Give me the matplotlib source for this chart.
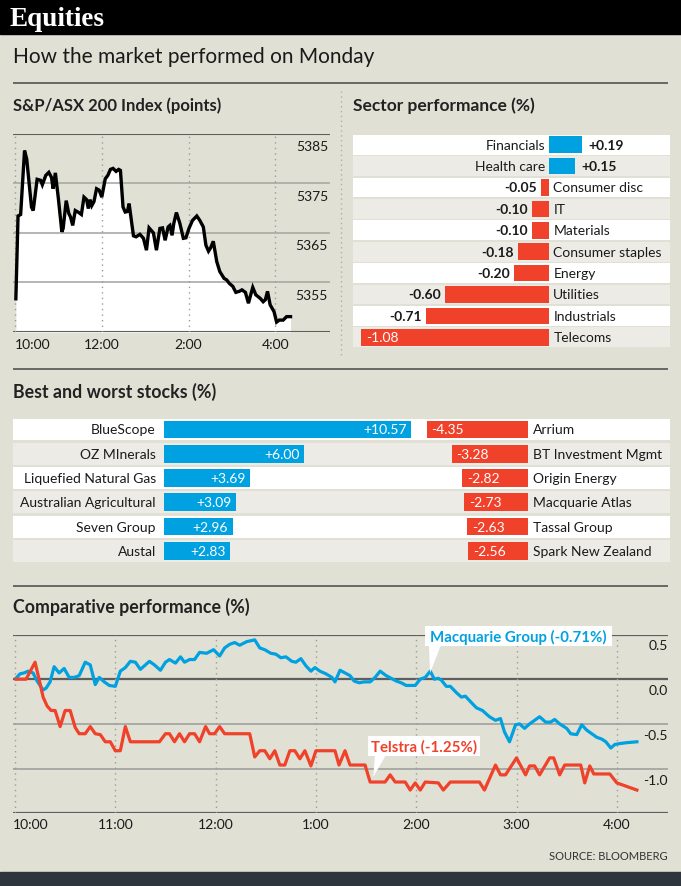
import matplotlib.pyplot as plt
from matplotlib.patches import Rectangle, Polygon

# size of the picture in pixels
W, H = 681, 887
BG = '#e1e0d4'
ROW_GREY = '#ecebe6'
BLUE = '#00a1e0'
RED = '#f0412a'
DARK_LINE = '#5e5e5e'
LIGHT_LINE = '#a9a9a6'
LABEL_SIZE = 10

plt.rcParams['font.family'] = ['Lato', 'DejaVu Sans']
plt.rcParams['text.color'] = '#1a1a1a'

# S&P/ASX 200, hours after 10:00
index_hours = [
    0.02, 0.07, 0.13, 0.22, 0.27, 0.38, 0.42, 0.51, 0.59, 0.63,
    0.71, 0.78, 0.84, 0.88, 0.93, 1.00, 1.08, 1.11, 1.18, 1.24,
    1.28, 1.33, 1.39, 1.47, 1.53, 1.59, 1.65, 1.69, 1.73, 1.77,
    1.82, 1.88, 1.94, 2.00, 2.08, 2.14, 2.20, 2.26, 2.33, 2.39,
    2.43, 2.49, 2.54, 2.59, 2.63, 2.73, 2.79, 2.88, 2.96, 3.03,
    3.09, 3.19, 3.26, 3.34, 3.40, 3.46, 3.53, 3.57, 3.62, 3.66,
    3.72, 3.80, 3.88, 3.94, 4.01, 4.09, 4.19, 4.26, 4.34, 4.40,
    4.46, 4.51, 4.57, 4.65, 4.72, 4.82, 4.88, 4.94, 5.02, 5.09,
    5.17, 5.23, 5.31, 5.38, 5.48, 5.55, 5.65, 5.72, 5.77, 5.82,
    5.88, 5.97, 6.03, 6.09, 6.18, 6.26, 6.35,
]
index_points = [
    5351.7, 5368.4, 5368.7, 5381.6, 5379.9, 5370.2, 5369.5, 5375.8, 5375.6, 5374.7,
    5376.6, 5377.2, 5376.2, 5373.9, 5377.1, 5371.9, 5365.2, 5365.9, 5371.5, 5368.9,
    5368.2, 5366.5, 5369.5, 5369.1, 5368.7, 5372.2, 5371.7, 5369.9, 5371.7, 5370.5,
    5371.3, 5373.9, 5373.6, 5372.2, 5375.9, 5376.6, 5377.8, 5378.0, 5377.4, 5377.8,
    5377.6, 5370.2, 5369.2, 5369.3, 5370.9, 5364.4, 5364.2, 5364.7, 5363.9, 5361.5,
    5366.0, 5365.0, 5361.5, 5365.9, 5366.0, 5363.5, 5366.2, 5366.5, 5364.5, 5366.9,
    5369.1, 5366.9, 5363.9, 5364.0, 5365.9, 5367.5, 5368.4, 5367.5, 5366.2, 5362.5,
    5361.3, 5362.0, 5363.3, 5359.2, 5357.2, 5355.8, 5355.5, 5354.8, 5354.2, 5353.0,
    5353.2, 5353.5, 5353.0, 5350.8, 5354.0, 5352.5, 5351.8, 5351.1, 5351.5, 5353.2,
    5350.5, 5349.1, 5347.0, 5347.4, 5347.4, 5348.1, 5348.1,
]
index_ticks = [5385, 5375, 5365, 5355]
index_time_hours = [0, 2, 4, 6]
index_time_labels = ['10:00', '12:00', '2:00', '4:00']

# sector performance (%)
sectors = ['Financials', 'Health care', 'Consumer disc', 'IT', 'Materials',
           'Consumer staples', 'Energy', 'Utilities', 'Industrials', 'Telecoms']
sector_change = [0.19, 0.15, -0.05, -0.10, -0.10, -0.18, -0.20, -0.60, -0.71, -1.08]

# best and worst stocks (%)
best_names = ['BlueScope', 'OZ MInerals', 'Liquefied Natural Gas',
              'Australian Agricultural', 'Seven Group', 'Austal']
best_change = [10.57, 6.00, 3.69, 3.09, 2.96, 2.83]
worst_names = ['Arrium', 'BT Investment Mgmt', 'Origin Energy',
               'Macquarie Atlas', 'Tassal Group', 'Spark New Zealand']
worst_change = [-4.35, -3.28, -2.82, -2.73, -2.63, -2.56]

# comparative performance (%), hours after 10:00
mqg_hours = [
    0.01, 0.05, 0.09, 0.13, 0.18, 0.22, 0.28, 0.31, 0.35, 0.39,
    0.44, 0.49, 0.54, 0.59, 0.64, 0.70, 0.75, 0.80, 0.84, 0.89,
    0.94, 1.00, 1.05, 1.10, 1.15, 1.20, 1.25, 1.34, 1.39, 1.45,
    1.50, 1.54, 1.60, 1.65, 1.69, 1.74, 1.79, 1.84, 1.91, 1.98,
    2.04, 2.09, 2.14, 2.19, 2.24, 2.31, 2.39, 2.44, 2.49, 2.55,
    2.60, 2.65, 2.70, 2.76, 2.80, 2.85, 2.90, 2.95, 2.99, 3.04,
    3.10, 3.16, 3.19, 3.24, 3.29, 3.34, 3.38, 3.43, 3.48, 3.54,
    3.59, 3.64, 3.70, 3.75, 3.80, 3.85, 3.90, 3.99, 4.04, 4.09,
    4.14, 4.18, 4.22, 4.25, 4.30, 4.34, 4.40, 4.45, 4.49, 4.54,
    4.60, 4.66, 4.73, 4.79, 4.84, 4.88, 4.93, 4.99, 5.03, 5.08,
    5.13, 5.23, 5.29, 5.34, 5.38, 5.43, 5.50, 5.54, 5.60, 5.65,
    5.70, 5.75, 5.80, 5.85, 5.89, 5.94, 5.98, 6.03, 6.10, 6.20,
]
mqg_change = [
    0.01, 0.06, 0.07, 0.09, 0.07, -0.02, -0.12, -0.10, -0.03, 0.14,
    0.07, 0.12, 0.02, 0.02, 0.04, 0.19, 0.16, -0.06, 0.02, -0.03,
    -0.07, -0.08, 0.09, 0.13, 0.20, 0.19, 0.11, 0.20, 0.16, 0.10,
    0.19, 0.22, 0.18, 0.25, 0.19, 0.22, 0.22, 0.30, 0.29, 0.33,
    0.26, 0.35, 0.39, 0.41, 0.38, 0.42, 0.44, 0.35, 0.33, 0.29,
    0.28, 0.24, 0.25, 0.20, 0.19, 0.23, 0.15, 0.09, 0.13, 0.09,
    0.06, 0.02, -0.03, 0.10, 0.07, 0.04, -0.02, -0.04, -0.03, -0.03,
    0.02, 0.09, 0.04, 0.01, -0.02, -0.04, -0.07, -0.07, 0.00, 0.02,
    0.09, 0.00, 0.01, -0.01, -0.08, -0.08, -0.15, -0.20, -0.19, -0.25,
    -0.32, -0.35, -0.42, -0.46, -0.44, -0.59, -0.70, -0.51, -0.50, -0.55,
    -0.50, -0.42, -0.48, -0.48, -0.45, -0.50, -0.55, -0.61, -0.62, -0.51,
    -0.57, -0.61, -0.65, -0.67, -0.70, -0.77, -0.73, -0.72, -0.71, -0.70,
]
tls_hours = [
    0.01, 0.11, 0.20, 0.24, 0.28, 0.32, 0.36, 0.40, 0.45, 0.50,
    0.55, 0.60, 0.64, 0.70, 0.75, 0.80, 0.85, 0.90, 0.95, 1.00,
    1.05, 1.10, 1.15, 1.44, 1.50, 1.54, 1.59, 1.64, 1.69, 1.74,
    1.79, 1.84, 1.90, 1.94, 1.99, 2.04, 2.09, 2.34, 2.39, 2.44,
    2.49, 2.54, 2.59, 2.64, 2.69, 2.74, 2.79, 2.84, 2.89, 2.95,
    3.00, 3.19, 3.23, 3.29, 3.34, 3.49, 3.54, 3.69, 3.74, 3.79,
    3.89, 3.94, 3.99, 4.04, 4.09, 4.22, 4.27, 4.34, 4.63, 4.68,
    4.79, 4.84, 4.89, 5.00, 5.09, 5.13, 5.18, 5.23, 5.33, 5.37,
    5.43, 5.48, 5.64, 5.68, 5.73, 5.77, 5.93, 6.00, 6.20,
]
tls_change = [
    0.00, 0.00, 0.19, 0.00, -0.20, -0.30, -0.35, -0.35, -0.53, -0.35,
    -0.35, -0.54, -0.61, -0.61, -0.53, -0.61, -0.62, -0.70, -0.70, -0.80,
    -0.80, -0.53, -0.70, -0.70, -0.61, -0.61, -0.70, -0.61, -0.70, -0.61,
    -0.61, -0.70, -0.53, -0.61, -0.61, -0.53, -0.61, -0.61, -0.87, -0.80,
    -0.80, -0.89, -0.80, -0.96, -0.96, -0.80, -0.80, -0.89, -0.80, -0.97,
    -0.80, -0.80, -0.96, -0.80, -0.96, -0.96, -1.15, -1.15, -1.07, -1.15,
    -1.15, -1.24, -1.16, -1.24, -1.15, -1.16, -1.24, -1.15, -1.15, -1.24,
    -0.96, -1.07, -1.07, -0.88, -1.07, -0.97, -0.97, -1.07, -0.88, -0.88,
    -1.07, -0.96, -0.96, -1.16, -0.97, -1.06, -1.06, -1.16, -1.24,
]
comp_ticks = [0.5, 0.0, -0.5, -1.0]
comp_time_hours = [0, 1, 2, 3, 4, 5, 6]
comp_time_labels = ['10:00', '11:00', '12:00', '1:00', '2:00', '3:00', '4:00']


def frame(left, top, width, height):
    # pixel box (from top left) -> figure fraction
    return [left / W, 1 - (top + height) / H, width / W, height / H]


def px(n):
    # pixels -> points for offsets
    return n * 72 / 100


def bare(ax):
    ax.set_facecolor('none')
    for s in ax.spines.values():
        s.set_visible(False)
    ax.set_xticks([])
    ax.set_yticks([])


fig = plt.figure(figsize=(W / 100, H / 100), dpi=100, facecolor=BG)

# background layer in pixel coordinates
bg = fig.add_axes([0, 0, 1, 1])
bg.set_xlim(0, W)
bg.set_ylim(H, 0)
bg.axis('off')

bg.add_patch(Rectangle((0, 0), W, 35, color='black'))
bg.text(10, 19, 'Equities', family=['Liberation Serif', 'DejaVu Serif'], weight='bold',
        fontsize=19.5, color='white', va='center', ha='left')
bg.text(13, 57, 'How the market performed on Monday', fontsize=15, va='center')
for y in [84, 370, 587]:
    bg.plot([13, 668], [y, y], color=DARK_LINE, lw=1.3, solid_capstyle='butt')
bg.plot([341, 341], [92, 356], color='#b0afa6', lw=1, ls=(0, (1, 2.5)))

title_kw = dict(weight='bold', va='center', ha='left', color='#222222')
bg.text(13, 106, 'S&P/ASX 200 Index (points)', fontsize=12, **title_kw)
bg.text(353, 106, 'Sector performance (%)', fontsize=12.5, **title_kw)
bg.text(13, 392, 'Best and worst stocks (%)', fontsize=12.8, **title_kw)
bg.text(13, 607, 'Comparative performance (%)', fontsize=12.8, **title_kw)

bg.text(668, 857, 'SOURCE: BLOOMBERG', fontsize=8, ha='right', va='center', color='#333333')
bg.add_patch(Rectangle((0, 873), W, 14, color='#2e353c'))

# ---- S&P/ASX 200 line chart
ax1 = fig.add_axes(frame(13, 134.7, 317, 198.3))
bare(ax1)
ax1.set_xlim(-0.046, 7.26)
ax1.set_ylim(5345, 5385)
ax1.fill_between(index_hours, index_points, 5345, color='white', lw=0, zorder=1)
for v in [5385, 5345]:
    ax1.axhline(v, color=DARK_LINE, lw=1.5, zorder=2)
for v in [5375, 5365, 5355]:
    ax1.axhline(v, color=LIGHT_LINE, lw=1.2, zorder=2)
for t in index_time_hours:
    ax1.axvline(t, color='#9c9c98', lw=1, ls=(0, (1, 3)), zorder=2)
ax1.plot(index_hours, index_points, color='black', lw=2.4, zorder=3,
         solid_joinstyle='miter')
for v in index_ticks:
    ax1.annotate(str(v), xy=(1, v), xycoords=('axes fraction', 'data'),
                 xytext=(px(-2), px(-12.5)), textcoords='offset points',
                 ha='right', va='center', fontsize=LABEL_SIZE)
for t, lab in zip(index_time_hours, index_time_labels):
    ax1.annotate(lab, xy=(t, 5345), xytext=(0, px(-12)), textcoords='offset points',
                 ha='left' if t == 0 else 'center', va='center', fontsize=LABEL_SIZE,
                 annotation_clip=False)

# ---- sector bars
ax2 = fig.add_axes(frame(353, 135, 317, 214))
bare(ax2)
ax2.set_xlim(-1.128, 0.694)
ax2.set_ylim(len(sectors) - 0.5, -0.5)
for i in range(len(sectors)):
    ax2.axhspan(i - 0.465, i + 0.465, color='white' if i % 2 == 0 else ROW_GREY, lw=0, zorder=0)
ax2.barh(range(len(sectors)), sector_change, height=0.78,
         color=[BLUE if v > 0 else RED for v in sector_change], zorder=2)
for i, (name, v) in enumerate(zip(sectors, sector_change)):
    lbl = f'{v:+.2f}'
    if v > 0:
        ax2.annotate(name, xy=(0, i), xytext=(px(-4), 0), textcoords='offset points',
                     ha='right', va='center', fontsize=LABEL_SIZE)
        ax2.annotate(lbl, xy=(v, i), xytext=(px(6), 0), textcoords='offset points',
                     ha='left', va='center', fontsize=LABEL_SIZE, weight='bold')
    else:
        ax2.annotate(name, xy=(0, i), xytext=(px(4), 0), textcoords='offset points',
                     ha='left', va='center', fontsize=LABEL_SIZE)
        if v < -1:
            ax2.annotate(lbl, xy=(v, i), xytext=(px(5), 0), textcoords='offset points',
                         ha='left', va='center', fontsize=LABEL_SIZE, color='white')
        else:
            ax2.annotate(lbl, xy=(v, i), xytext=(px(-4), 0), textcoords='offset points',
                         ha='right', va='center', fontsize=LABEL_SIZE, weight='bold')

# ---- best and worst stocks
WORST_ZERO = 15.57
ax3 = fig.add_axes(frame(13, 418.3, 657, 145.7))
bare(ax3)
ax3.set_xlim(-6.45, 21.62)
ax3.set_ylim(len(best_names) - 0.5, -0.5)
for i in range(len(best_names)):
    ax3.axhspan(i - 0.45, i + 0.45, color='white' if i % 2 == 0 else ROW_GREY, lw=0, zorder=0)
rows = range(len(best_names))
ax3.barh(rows, best_change, height=0.73, color=BLUE, zorder=2)
ax3.barh(rows, worst_change, left=WORST_ZERO, height=0.73, color=RED, zorder=2)
for i in rows:
    ax3.annotate(best_names[i], xy=(0, i), xytext=(px(-8), 0), textcoords='offset points',
                 ha='right', va='center', fontsize=LABEL_SIZE)
    ax3.annotate(f'{best_change[i]:+.2f}', xy=(best_change[i], i), xytext=(px(-5), 0),
                 textcoords='offset points', ha='right', va='center',
                 fontsize=LABEL_SIZE, color='white')
    ax3.annotate(worst_names[i], xy=(WORST_ZERO, i), xytext=(px(4.5), 0),
                 textcoords='offset points', ha='left', va='center', fontsize=LABEL_SIZE)
    ax3.annotate(f'{worst_change[i]:.2f}', xy=(WORST_ZERO + worst_change[i], i),
                 xytext=(px(5), 0), textcoords='offset points',
                 ha='left', va='center', fontsize=LABEL_SIZE, color='white')

# ---- comparative performance
ax4 = fig.add_axes(frame(13, 635.5, 655, 178.8))
bare(ax4)
ax4.set_xlim(-0.02, 6.51)
ax4.set_ylim(-1.5, 0.5)
for v in [0.5, 0.0, -1.5]:
    ax4.axhline(v, color=DARK_LINE, lw=1.6, zorder=1)
for v in [-0.5, -1.0]:
    ax4.axhline(v, color=LIGHT_LINE, lw=1.4, zorder=1)
for t in comp_time_hours:
    ax4.axvline(t, color='#9c9c98', lw=1, ls=(0, (1, 3)), zorder=1)
ax4.plot(mqg_hours, mqg_change, color=BLUE, lw=2.3, zorder=3)
ax4.plot(tls_hours, tls_change, color=RED, lw=2.3, zorder=3)
for v in comp_ticks:
    ax4.annotate(f'{v:.1f}', xy=(1, v), xycoords=('axes fraction', 'data'),
                 xytext=(0, px(-11)), textcoords='offset points',
                 ha='right', va='center', fontsize=LABEL_SIZE)
for t, lab in zip(comp_time_hours, comp_time_labels):
    ax4.annotate(lab, xy=(t, -1.5), xytext=(px(-2) if t == 0 else 0, px(-11)),
                 textcoords='offset points', ha='left' if t == 0 else 'center',
                 va='center', fontsize=LABEL_SIZE, annotation_clip=False)

# callout boxes on top
top = fig.add_axes([0, 0, 1, 1])
top.set_xlim(0, W)
top.set_ylim(H, 0)
top.axis('off')
top.add_patch(Rectangle((425, 626.7), 186.7, 20, color='white', lw=0))
top.add_patch(Polygon([(429, 646), (441, 646), (430, 674)], closed=True, color='white', lw=0))
top.text(518.3, 637, 'Macquarie Group (-0.71%)', color=BLUE, weight='bold',
         fontsize=10.8, ha='center', va='center')
top.add_patch(Rectangle((368.3, 736.7), 111.7, 20, color='white', lw=0))
top.add_patch(Polygon([(375, 756), (386, 756), (373.3, 778)], closed=True, color='white', lw=0))
top.text(424.2, 747, 'Telstra (-1.25%)', color=RED, weight='bold',
         fontsize=10.8, ha='center', va='center')

fig.savefig('out.png', dpi=100, facecolor=BG)
